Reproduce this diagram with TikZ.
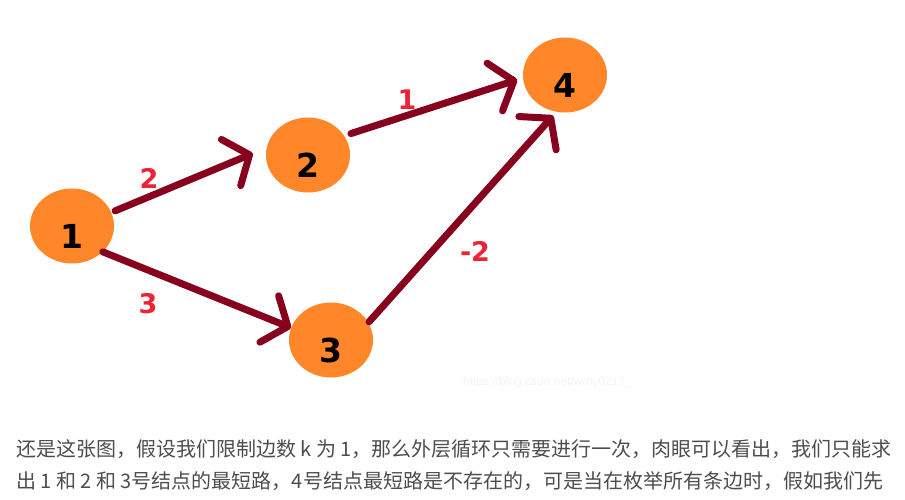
\documentclass[tikz,border=0pt]{standalone}
\usepackage{fontspec}
\setmainfont{DejaVu Sans}
\newfontfamily\cjk{Noto Sans CJK SC}
\newfontfamily\wmfont{Liberation Sans}
\usepackage{tikz}
\usetikzlibrary{shapes.geometric, arrows.meta}
\definecolor{vorange}{RGB}{255,134,41}
\definecolor{edgered}{RGB}{135,0,30}
\definecolor{wred}{RGB}{238,34,52}
\definecolor{textgray}{RGB}{77,77,77}
\tikzstyle{vertex} = [ellipse, fill=vorange, minimum width=84pt, minimum height=75pt, inner sep=0pt, font=\fontsize{33}{33}\selectfont\bfseries, text height=44pt, text depth=0pt]
\tikzstyle{edge} = [line width=7pt, draw=edgered, line cap=round, -{Straight Barb[length=20pt, width=50pt, round]}]
\tikzstyle{weight} = [text=wred, inner sep=0pt, font=\fontsize{27}{27}\selectfont\bfseries]
\tikzstyle{para} = [anchor=base west, inner sep=0pt, text=textgray, font=\cjk\fontsize{20}{20}\selectfont]

\begin{document}
\begin{tikzpicture}[x=1pt, y=-1pt]
        \useasboundingbox (0,0) rectangle (905,499);
        % Vertices
        \node (n1) [vertex] at (72,226) {1};
        \node (n2) [vertex] at (308,155) {2};
        \node (n3) [vertex] at (331,340) {3};
        \node (n4) [vertex] at (565,75) {4};

        % Edges with their weights
        \draw[edge, shorten <=4pt, shorten >=15pt] (n1.19) -- (n2.170);
        \draw[edge, shorten <=7pt, shorten >=6pt] (n2.28) -- (n4.184);
        \draw[edge] (n1.-40) -- (n3.163);
        \draw[edge, shorten <=1pt, shorten >=5pt] (n3.25) -- (n4.257);
        \node (w12) [weight] at (149,178) {2};
        \node (w24) [weight] at (407,100) {1};
        \node (w13) [weight] at (148,304) {3};
        \node (w34) [weight] at (475,251) {-2};

        % Watermark
        \node (mark) [anchor=west, inner sep=0pt, text=black!5, font=\wmfont\fontsize{12}{12}\selectfont] at (463,382) {https://blog.csdn.net/wmy0217\_};

        % Text below the picture
        \node (line1) [para] at (16,456) {还是这张图，假设我们限制边数 k 为 1，那么外层循环只需要进行一次，肉眼可以看出，我们只能求};
        \node (line2) [para] at (16,488) {出 1 和 2 和 3号结点的最短路，4号结点最短路是不存在的，可是当在枚举所有条边时，假如我们先};
    \end{tikzpicture}
\end{document}
